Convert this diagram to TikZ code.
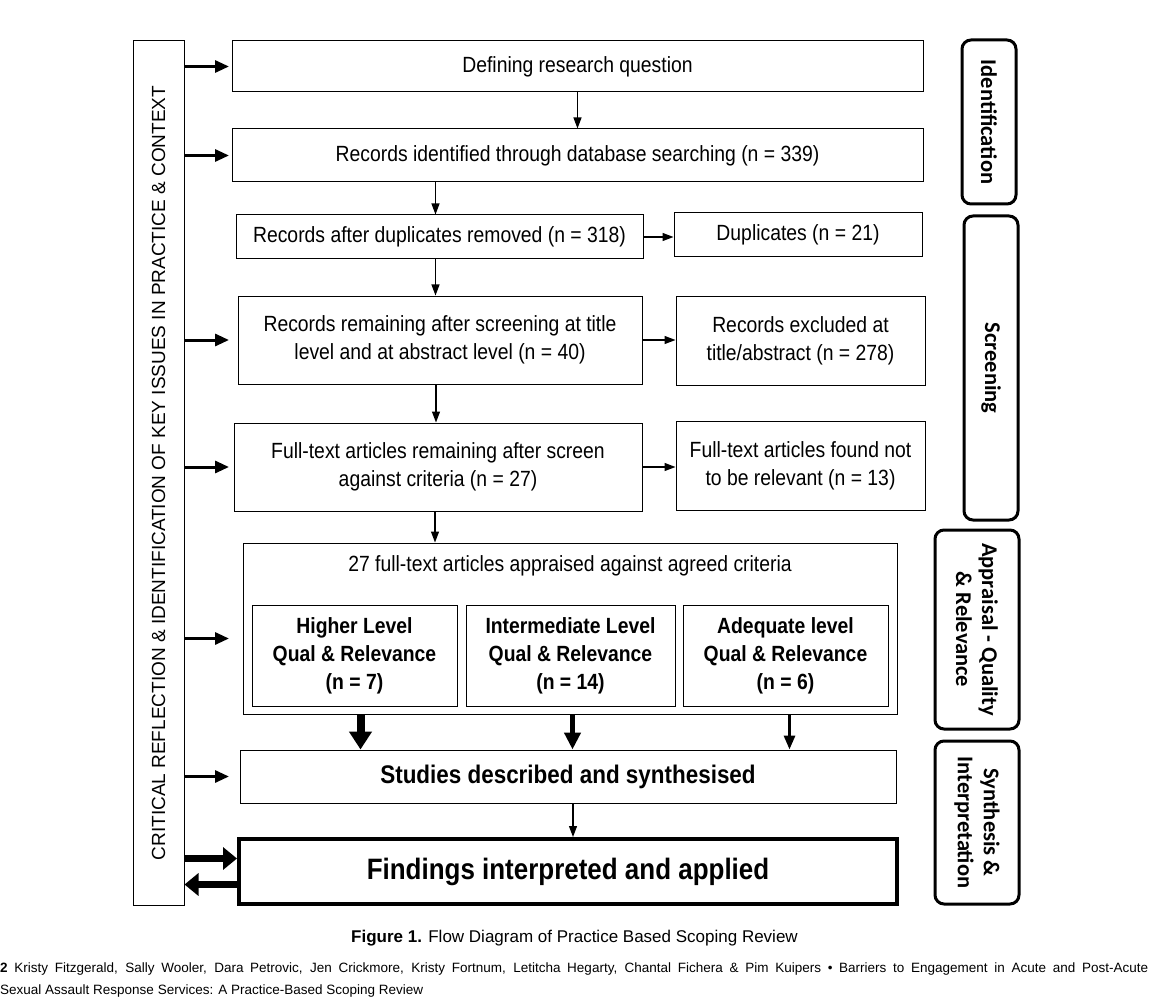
\documentclass[tikz,border=0pt]{standalone}
\usepackage{fontspec}
\setmainfont{Liberation Sans}
\newfontfamily\narrowfont[FakeStretch=0.88]{Liberation Sans}
\newfontfamily\calfont{Carlito}
\usetikzlibrary{arrows.meta}
\tikzset{
  flowbox/.style={draw, line width=1pt, align=center, inner sep=0pt,
    font=\narrowfont\fontsize{22}{28}\selectfont},
  subbox/.style={flowbox, font=\narrowfont\bfseries\fontsize{22}{28}\selectfont},
  phasebox/.style={draw, line width=3pt, rounded corners=9pt, align=center, inner sep=0pt,
    rotate=-90, font=\calfont\bfseries\fontsize{22.5}{26}\selectfont},
  sidearrow/.style={line width=3pt, -{Triangle[length=14pt,width=12pt]}},
  bigarrow/.style={line width=7pt, -{Triangle[length=14pt,width=22pt]}},
  downarrow/.style={line width=1.2pt, -{Triangle[length=11pt,width=8pt]}},
}
\begin{document}
\begin{tikzpicture}[x=1pt,y=-1pt]
  \useasboundingbox (0,0) rectangle (1164,1008);
  % left column
  \node[draw, line width=1pt, rotate=90, minimum width=864, minimum height=51,
    font=\fontsize{19}{23}\selectfont] (reflect) at (158.5,473)
    {CRITICAL REFLECTION \& IDENTIFICATION OF KEY ISSUES IN PRACTICE \& CONTEXT};
  \coordinate (tipline) at (229,0);
  % main flow
  \node[flowbox, minimum width=691, minimum height=51] (question) at (577.5,66.5) {Defining research question};
  \node[flowbox, minimum width=691, minimum height=53] (identified) at (577.5,155.5) {Records identified through database searching (n = 339)};
  \node[flowbox, minimum width=407, minimum height=44] (dupremoved) at (439.5,237) {Records after duplicates removed (n = 318)};
  \node[flowbox, minimum width=248, minimum height=44] (duplicates) at (798,235) {Duplicates (n = 21)};
  \node[flowbox, minimum width=404, minimum height=88] (screened) at (440,340) {Records remaining after screening at title\\level and at abstract level (n = 40)};
  \node[flowbox, minimum width=249, minimum height=89] (excluded) at (800.5,340.5) {Records excluded at\\title/abstract (n = 278)};
  \node[flowbox, minimum width=408, minimum height=88] (fulltext) at (438,467) {Full-text articles remaining after screen\\against criteria (n = 27)};
  \node[flowbox, minimum width=249, minimum height=89] (notrelevant) at (800.5,465.5) {Full-text articles found not\\to be relevant (n = 13)};
  % appraisal
  \node[draw, line width=1pt, minimum width=654, minimum height=171] (appraised) at (570,628.5) {};
  \node[font=\narrowfont\fontsize{22}{28}\selectfont] (apptitle) at (570,566) {27 full-text articles appraised against agreed criteria};
  \node[subbox, minimum width=205, minimum height=101] (higher) at (354.5,655.5) {Higher Level\\Qual \& Relevance\\(n = 7)};
  \node[subbox, minimum width=209, minimum height=101] (intermediate) at (570.5,655.5) {Intermediate Level\\Qual \& Relevance\\(n = 14)};
  \node[subbox, minimum width=205, minimum height=101] (adequate) at (785.5,655.5) {Adequate level\\Qual \& Relevance\\(n = 6)};
  \node[flowbox, minimum width=656, minimum height=53, font=\narrowfont\bfseries\fontsize{25.5}{30}\selectfont] (studies) at (568,776.5) {Studies described and synthesised};
  \node[flowbox, line width=4pt, minimum width=658, minimum height=65, font=\narrowfont\bfseries\fontsize{29.5}{36}\selectfont] (findings) at (568,871.5) {Findings interpreted and applied};
  % phases
  \node[phasebox, minimum width=164, minimum height=54] (ident) at (989,122) {Identification};
  \node[phasebox, minimum width=304, minimum height=54] (screen) at (991,368) {Screening};
  \node[phasebox, minimum width=199, minimum height=84] (appraisal) at (977,629.5) {Appraisal - Quality\\\& Relevance};
  \node[phasebox, minimum width=163, minimum height=84] (synth) at (977,822.5) {Synthesis \&\\Interpretation};
  % arrows from the left column
  \foreach \stage in {question,identified,screened,fulltext,studies}
    \draw[sidearrow] (reflect.south |- \stage.west) -- (tipline |- \stage.west);
  \draw[sidearrow] ([yshift=-10pt]reflect.south |- appraised.west) -- ([yshift=-10pt]tipline |- appraised.west);
  \draw[bigarrow] ([yshift=13pt]reflect.south |- findings.west) -- ([yshift=13pt]findings.west);
  \draw[bigarrow] ([yshift=-13pt]findings.west) -- ([yshift=-13pt]reflect.south |- findings.west);
  % flow arrows
  \draw[downarrow] (question) -- (identified);
  \draw[downarrow] ([xshift=-4pt]identified.south -| dupremoved.north) -- ([xshift=-4pt]dupremoved.north);
  \draw[downarrow] ([xshift=-4pt]dupremoved.south) -- ([xshift=-4pt]dupremoved.south |- screened.north);
  \draw[downarrow] ([xshift=-4pt]screened.south) -- ([xshift=-4pt]screened.south |- fulltext.north);
  \draw[downarrow] ([xshift=-3pt]fulltext.south) -- ([xshift=-3pt]fulltext.south |- appraised.north);
  \draw[downarrow] (dupremoved.east) -- (duplicates.west |- dupremoved.east);
  \draw[downarrow] (screened.east) -- (excluded.west |- screened.east);
  \draw[downarrow] (fulltext.east) -- (notrelevant.west |- fulltext.east);
  \draw[line width=8pt, -{Triangle[length=18pt,width=22pt]}] ([xshift=6pt]higher.south |- appraised.south) -- ([xshift=6pt]higher.south |- studies.north);
  \draw[line width=5pt, -{Triangle[length=17pt,width=16pt]}] ([xshift=2pt]intermediate.south |- appraised.south) -- ([xshift=2pt]intermediate.south |- studies.north);
  \draw[line width=3pt, -{Triangle[length=14pt,width=11pt]}] ([xshift=4pt]adequate.south |- appraised.south) -- ([xshift=4pt]adequate.south |- studies.north);
  \draw[downarrow] ([xshift=5pt]studies.south) -- ([xshift=5pt]findings.north);
  % caption and footer
  \node[font=\fontsize{17}{20}\selectfont] (caption) at (574.5,938)
    {\textbf{Figure 1.} Flow Diagram of Practice Based Scoping Review};
  \node[anchor=north west, inner sep=0pt, text width=1148, align=justify,
    font=\fontsize{13.5}{21.5}\selectfont] (footer) at (0,963)
    {\textbf{2} Kristy Fitzgerald, Sally Wooler, Dara Petrovic, Jen Crickmore, Kristy Fortnum, Letitcha Hegarty, Chantal Fichera \& Pim Kuipers • Barriers to Engagement in Acute and Post-Acute\linebreak Sexual Assault Response Services: A Practice-Based Scoping Review};
\end{tikzpicture}
\end{document}
